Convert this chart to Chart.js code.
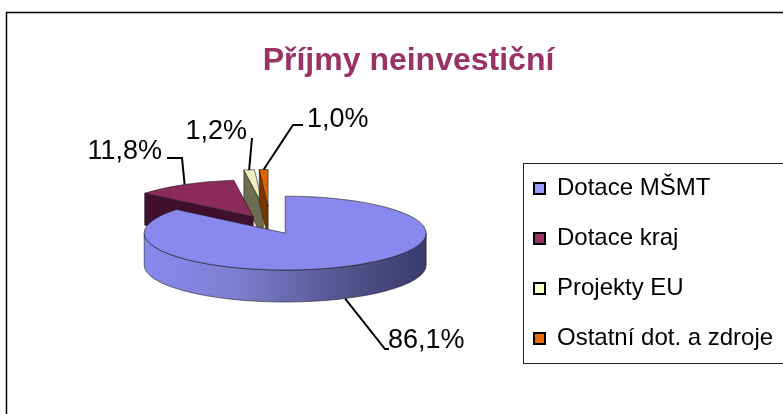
<!DOCTYPE html>
<html>
<head>
<meta charset="utf-8">
<style>
  html, body { margin: 0; padding: 0; background: #fff; overflow: hidden; }
</style>
<script src="https://cdn.jsdelivr.net/npm/chart.js@4"></script>
</head>
<body>
<canvas id="chart" width="783" height="414"></canvas>
<script>
const categories = ["Dotace MŠMT", "Dotace kraj", "Projekty EU", "Ostatní dot. a zdroje"];
const shares = [86.1, 11.8, 1.2, 1.0];

const topColors = ["#8888ee", "#8a2b5c", "#eeeebe", "#e06400"];
const wallColors = ["#3a3a6c", "#40102c", "#6c6c50", "#7a3800"];
const legendColors = ["#9999ff", "#993366", "#ffffcc", "#e86a00"];

// how far each slice is pulled out of the pie, before squashing
const explode = [35, 35, 70, 70];
const drawOrder = [2, 3, 1, 0];

const labelSpots = [
  { elbow: [385, 349], end: [389, 349], text: [388, 341], align: "left" },
  { elbow: [182, 158], end: [167, 158], text: [162, 152], align: "right" },
  { elbow: [252, 138], end: [252, 138], text: [247, 132], align: "right" },
  { elbow: [293, 125], end: [303, 125], text: [307, 120], align: "left" }
];

const centerX = 270.3, centerY = 224.8, squash = 0.262, depth = 32;

const pie3d = {
  id: "pie3d",
  beforeDraw(chart) {
    const ctx = chart.ctx;
    ctx.save();
    ctx.strokeStyle = "#000";
    ctx.lineWidth = 1.5;
    ctx.beginPath();
    ctx.moveTo(6.5, 414);
    ctx.lineTo(6.5, 12.5);
    ctx.lineTo(783, 12.5);
    ctx.stroke();
    ctx.lineWidth = 1;
    ctx.strokeStyle = "#222";
    ctx.strokeRect(523.5, 163.5, 300, 200);
    ctx.restore();
  },
  afterLayout(chart) {
    const legend = chart.legend;
    legend.left = 508;
    legend.right = 783;
    legend.top = 150.5;
    legend.bottom = 414;
  },
  beforeDatasetDraw(chart) {
    const ctx = chart.ctx;
    const arcs = chart.getDatasetMeta(0).data;

    const place = (el, i) => {
      const mid = (el.startAngle + el.endAngle) / 2;
      return {
        x: centerX + Math.cos(mid) * explode[i],
        y: centerY + Math.sin(mid) * explode[i] * squash
      };
    };

    drawOrder.forEach(i => {
      const el = arcs[i];
      const p = place(el, i);
      const r = el.outerRadius, ry = r * squash;
      const sx = p.x + Math.cos(el.startAngle) * r;
      const sy = p.y + Math.sin(el.startAngle) * ry;

      ctx.save();
      ctx.strokeStyle = "rgba(20,20,20,0.8)";
      ctx.lineWidth = 0.7;
      ctx.lineJoin = "round";

      // cut face, only the back slices show it
      if (i !== 0) {
        ctx.fillStyle = wallColors[i];
        ctx.beginPath();
        ctx.moveTo(sx, sy);
        ctx.lineTo(p.x, p.y);
        ctx.lineTo(p.x, p.y + depth);
        ctx.lineTo(sx, sy + depth);
        ctx.closePath();
        ctx.fill();
        ctx.stroke();
      }

      // outer wall, front half only
      const from = Math.max(el.startAngle, 0);
      const to = Math.min(el.endAngle, Math.PI);
      if (to > from) {
        const grad = ctx.createLinearGradient(p.x - r, 0, p.x + r, 0);
        grad.addColorStop(0, "#8888ee");
        grad.addColorStop(0.3, "#8080d4");
        grad.addColorStop(0.7, "#55558f");
        grad.addColorStop(1, wallColors[i]);
        ctx.fillStyle = grad;
        ctx.beginPath();
        ctx.ellipse(p.x, p.y, r, ry, 0, from, to);
        ctx.ellipse(p.x, p.y + depth, r, ry, 0, to, from, true);
        ctx.closePath();
        ctx.fill();
        ctx.stroke();
      }

      // top face comes from the library's own arc
      ctx.save();
      ctx.translate(p.x, p.y);
      ctx.scale(1, squash);
      ctx.translate(-el.x, -el.y);
      el.draw(ctx);
      ctx.restore();

      ctx.beginPath();
      ctx.moveTo(p.x, p.y);
      ctx.ellipse(p.x, p.y, r, ry, 0, el.startAngle, el.endAngle);
      ctx.closePath();
      ctx.stroke();
      ctx.restore();
    });

    // value labels with leader lines
    ctx.save();
    ctx.font = "27px 'Liberation Sans'";
    ctx.textBaseline = "middle";
    shares.forEach((v, i) => {
      const el = arcs[i];
      const p = place(el, i);
      const mid = (el.startAngle + el.endAngle) / 2;
      const front = Math.sin(mid) > 0 ? depth : 0;
      const spot = labelSpots[i];
      ctx.strokeStyle = "#000";
      ctx.lineWidth = 2;
      ctx.beginPath();
      ctx.moveTo(p.x + Math.cos(mid) * el.outerRadius,
                 p.y + Math.sin(mid) * el.outerRadius * squash + front);
      ctx.lineTo(spot.elbow[0], spot.elbow[1]);
      ctx.lineTo(spot.end[0], spot.end[1]);
      ctx.stroke();
      ctx.fillStyle = "#000";
      ctx.textAlign = spot.align;
      ctx.fillText(v.toFixed(1).replace(".", ",") + "%", spot.text[0], spot.text[1]);
    });
    ctx.restore();

    return false;
  }
};

new Chart(document.getElementById("chart"), {
  type: "pie",
  data: {
    labels: categories,
    datasets: [{
      data: shares,
      backgroundColor: topColors,
      borderWidth: 0,
      clip: false
    }]
  },
  options: {
    responsive: false,
    animation: false,
    events: [],
    radius: 141,
    layout: { padding: { left: 34 } },
    plugins: {
      title: {
        display: true,
        text: "Příjmy neinvestiční",
        color: "#993366",
        font: { family: "'Liberation Sans'", size: 32, weight: "bold" },
        padding: { top: 42, bottom: 10 }
      },
      legend: {
        position: "right",
        align: "start",
        labels: {
          color: "#000",
          font: { family: "'Liberation Sans'", size: 24 },
          boxWidth: 11,
          boxHeight: 11,
          padding: 26,
          generateLabels: () => categories.map((name, i) => ({
            text: name,
            fillStyle: legendColors[i],
            strokeStyle: "#000",
            lineWidth: 2,
            hidden: false,
            index: i
          }))
        }
      },
      tooltip: { enabled: false }
    }
  },
  plugins: [pie3d]
});
</script>
</body>
</html>
